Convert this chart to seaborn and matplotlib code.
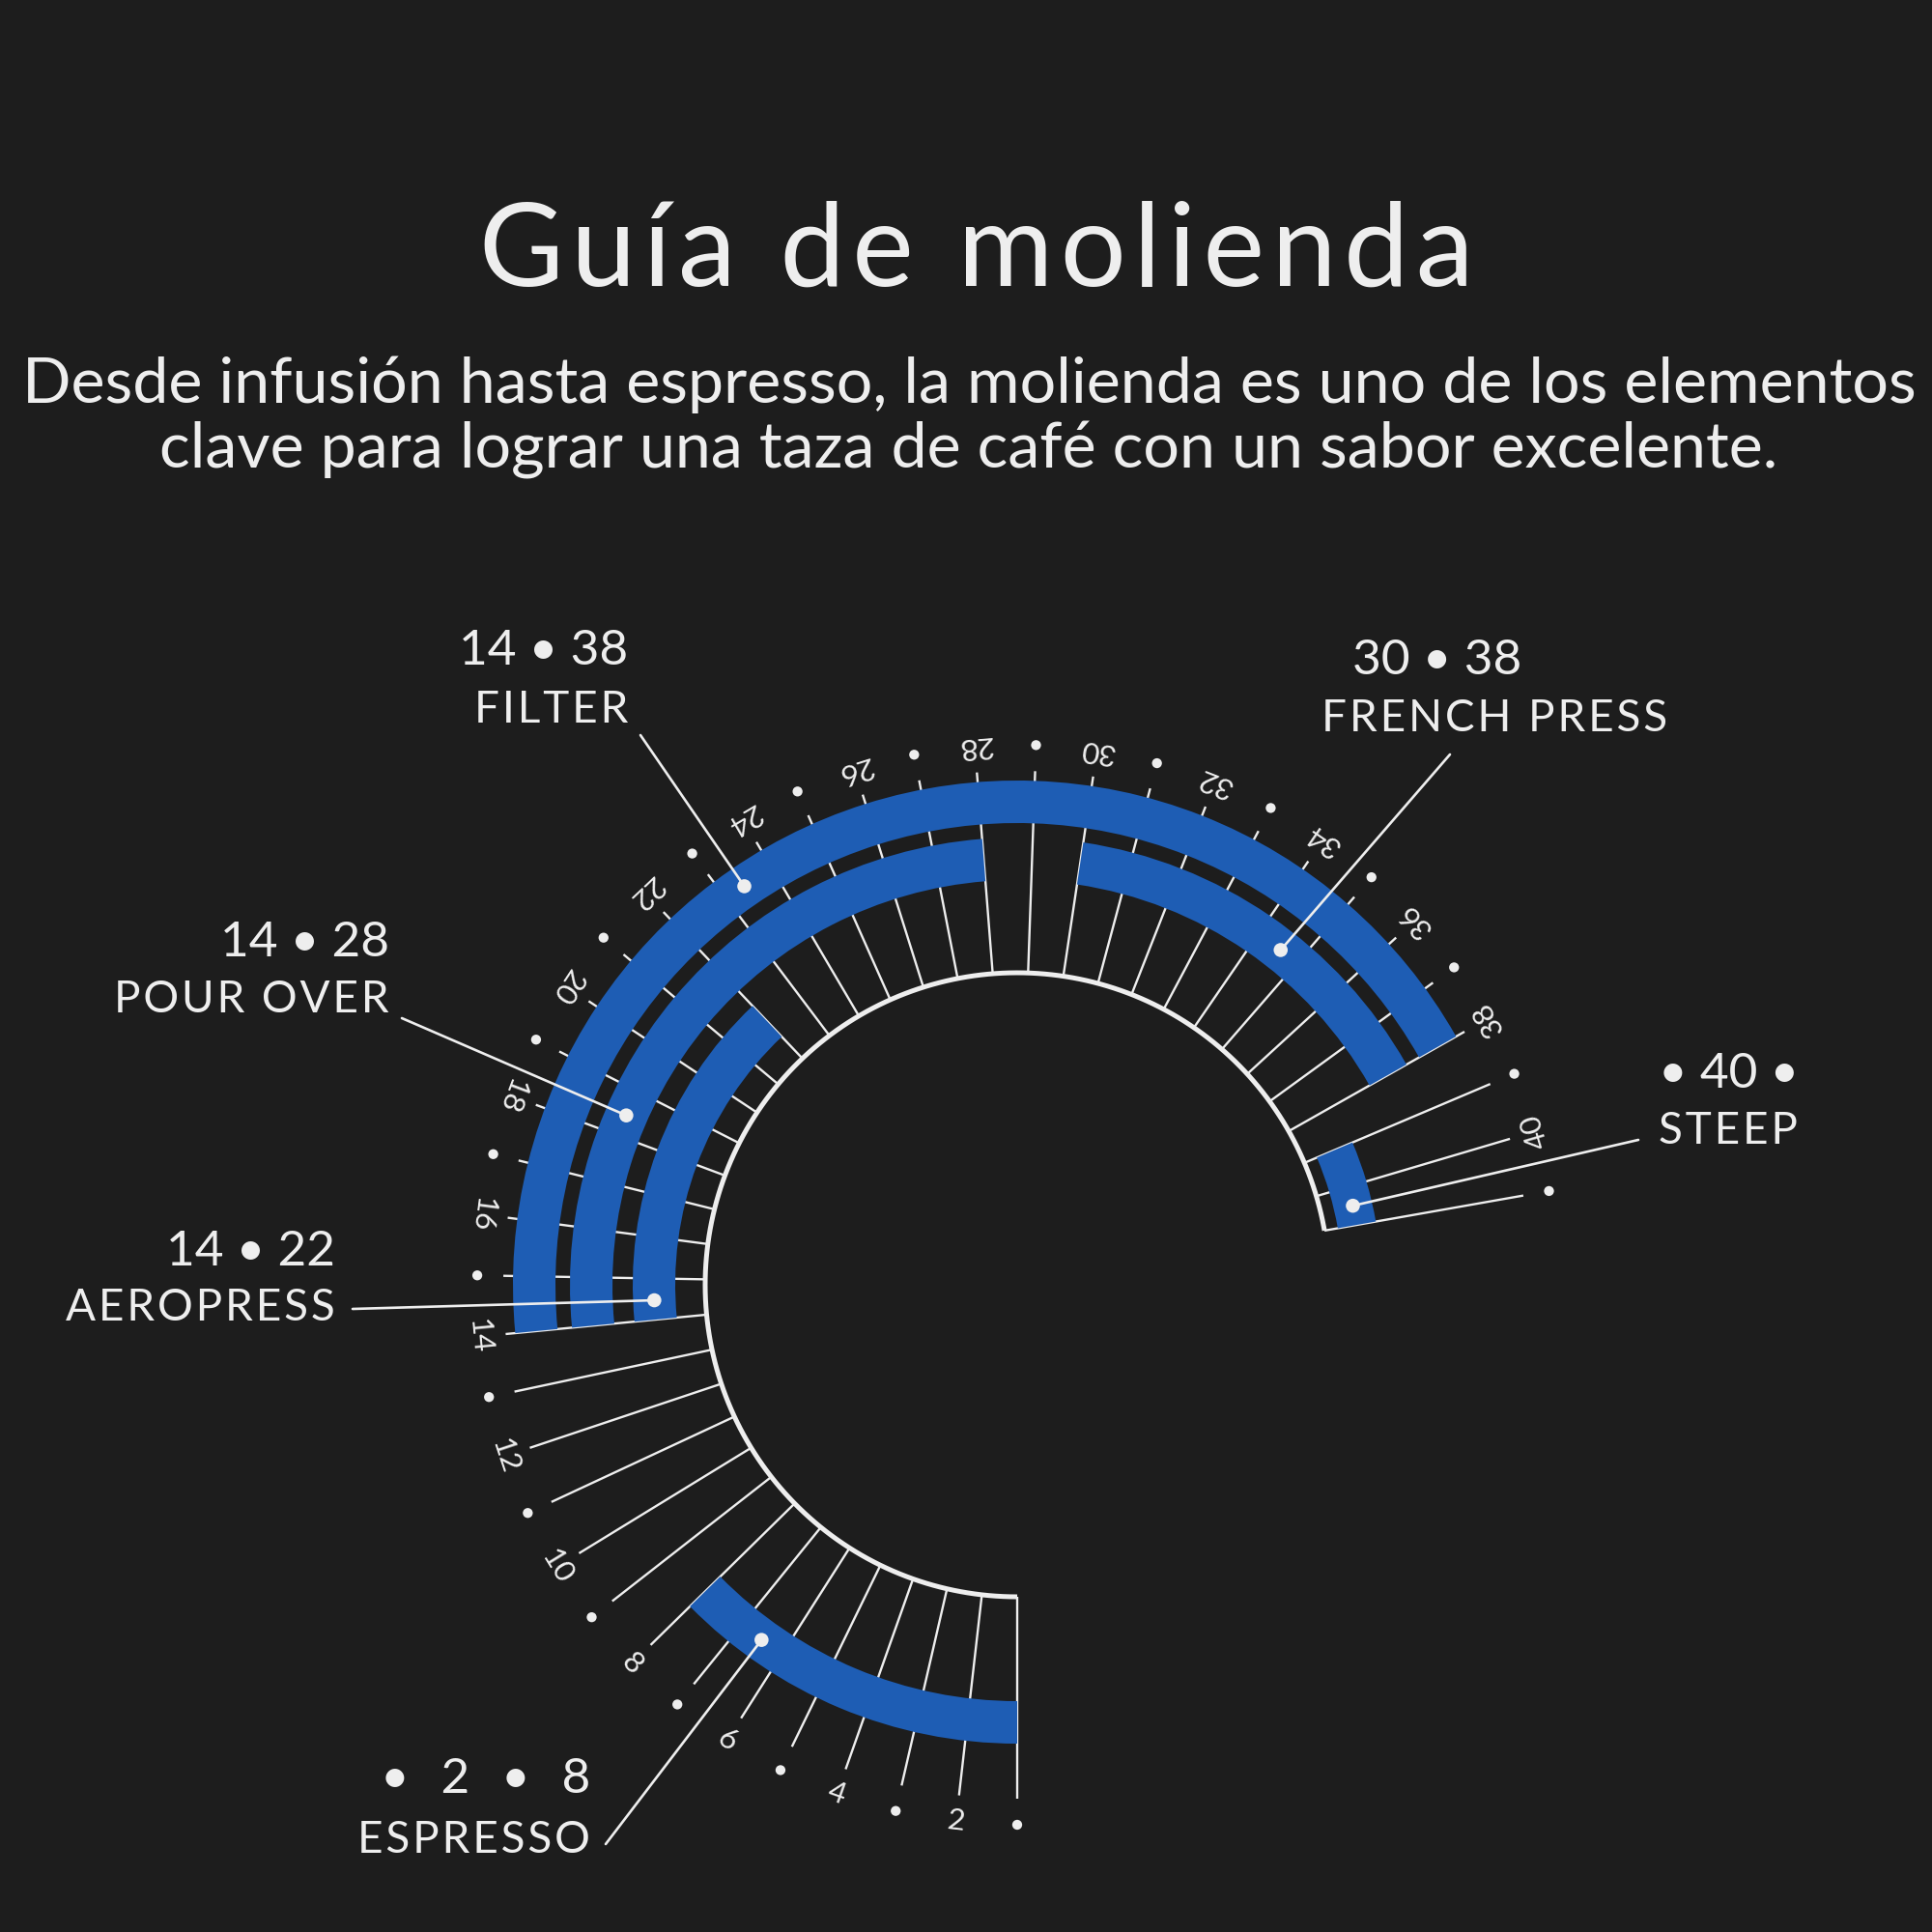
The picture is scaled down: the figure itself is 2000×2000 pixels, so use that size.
import numpy as np
import matplotlib
matplotlib.use("Agg")
import matplotlib.pyplot as plt
import seaborn as sns

# Guía de molienda - escala del molino y rango por método

# datos
metodos = ['ESPRESSO', 'AEROPRESS', 'POUR OVER', 'FILTER', 'FRENCH PRESS', 'STEEP']
molienda_ini = [1, 14, 14, 14, 30, 39]
molienda_fin = [8, 22, 28, 38, 38, 41]
rango_txt = ['•\u200a\u200a  2 \u200a\u200a •\u200a\u200a  8', '14 • 22', '14 • 28', '14 • 38',
             '30 • 38', '• 40 •']

escala = np.arange(1, 42)            # posiciones del molino 1..41
marcas_par = escala[escala % 2 == 0]  # con número
marcas_impar = escala[escala % 2 == 1]  # con punto

titulo = 'Guía de molienda'
subtitulo = ['Desde infusión hasta espresso, la molienda es uno de los elementos',
             'clave para lograr una taza de café con un sabor excelente.']

# estilo
FONDO = '#1d1d1d'
AZUL = '#1e5db4'
BLANCO = '#eeeeee'
PASO = 6.5  # grados por número
HS = '\u200a'  # espacio fino para separar letras

sns.set_theme(style='dark', rc={'figure.facecolor': FONDO, 'axes.facecolor': FONDO})
plt.rcParams['font.family'] = ['Lato', 'DejaVu Sans']


def ang(v):
    return np.radians(PASO * (np.asarray(v, dtype=float) - 1))


def espaciar(s, n=1):
    return (HS * n).join(s)


W = 2000
fig = plt.figure(figsize=(20, 20), dpi=100)
cx, cy = 1053, 1330  # centro en pixeles (y desde arriba)
R = 600
ax = fig.add_axes([(cx - R) / W, (W - cy - R) / W, 2 * R / W, 2 * R / W], projection='polar')
ax.set_theta_offset(np.radians(270))
ax.set_theta_direction(-1)
ax.set_ylim(0, R)
ax.set_axis_off()

r0, r_tick, r_lab = 323, 532, 559

# marcas radiales
ax.vlines(ang(escala), r0, r_tick, color=BLANCO, lw=1.7, zorder=1)
# arco interior
t = np.linspace(ang(escala.min()), ang(escala.max()), 400)
ax.plot(t, np.full_like(t, r0), color=BLANCO, lw=3.6, zorder=3, solid_capstyle='butt')

# puntos y números de la escala
sns.scatterplot(x=ang(marcas_impar), y=np.full(len(marcas_impar), r_lab), ax=ax,
                color=BLANCO, s=55, edgecolor='none', zorder=3, legend=False)
for v in marcas_par:
    ax.text(ang(v), r_lab, str(v), rotation=-PASO * (v - 1), rotation_mode='anchor',
            ha='center', va='center', color=BLANCO, fontsize=22.5, fontweight='normal')

# barras (anillos)
anillo = {'ESPRESSO': (431, 475), 'AEROPRESS': (354, 398), 'POUR OVER': (419, 463),
          'FILTER': (478, 522), 'FRENCH PRESS': (419, 463), 'STEEP': (337, 377)}
for m, a, b in zip(metodos, molienda_ini, molienda_fin):
    ri, ro = anillo[m]
    ax.bar(ang(a), ro - ri, width=ang(b) - ang(a), bottom=ri, align='edge',
           color=AZUL, edgecolor='none', zorder=2)

# etiquetas con línea guía
punto_v = {'ESPRESSO': 6.5, 'AEROPRESS': 14.47, 'POUR OVER': 18.45, 'FILTER': 23.4,
           'FRENCH PRESS': 34.57, 'STEEP': 40.5}
fin_linea = {'ESPRESSO': (627, 1909), 'AEROPRESS': (365, 1355), 'POUR OVER': (416, 1054),
             'FILTER': (663, 761), 'FRENCH PRESS': (1501, 781), 'STEEP': (1696, 1180)}
# x, alineación, base números, base nombre
texto_pos = {'ESPRESSO': (611, 'right', 1856, 1918), 'AEROPRESS': (347, 'right', 1310, 1367),
             'POUR OVER': (403, 'right', 990, 1048), 'FILTER': (650, 'right', 688, 748),
             'FRENCH PRESS': (1368, 'left', 698, 757), 'STEEP': (1717, 'left', 1126, 1184)}
texto_x_num = {'FRENCH PRESS': 1400}

pts_t, pts_r = [], []
for m, rt in zip(metodos, rango_txt):
    ri, ro = anillo[m]
    th, rr = ang(punto_v[m]), (ri + ro) / 2
    pts_t.append(th)
    pts_r.append(rr)
    lx, ly = fin_linea[m]
    ax.annotate('', xy=(th, rr), xytext=(lx / W, 1 - ly / W), textcoords='figure fraction',
                arrowprops=dict(arrowstyle='-', color=BLANCO, lw=1.9, shrinkA=0, shrinkB=0),
                annotation_clip=False, zorder=4)
    x, ha, yn, ym = texto_pos[m]
    fig.text(texto_x_num.get(m, x) / W, 1 - yn / W, rt, ha=ha, va='baseline',
             color=BLANCO, fontsize=37, fontweight='normal')
    fig.text(x / W, 1 - ym / W, espaciar(m, 1), ha=ha, va='baseline',
             color=BLANCO, fontsize=33, fontweight='normal')

sns.scatterplot(x=pts_t, y=pts_r, ax=ax, color=BLANCO, s=110, edgecolor='none',
                zorder=5, legend=False)

# título y subtítulo
fig.text(1011 / W, 1 - 296 / W, espaciar(titulo, 1), ha='center', va='baseline', color=BLANCO,
         fontsize=86.5, fontweight='normal')
for i, linea in enumerate(subtitulo):
    fig.text(1003 / W, 1 - (417 + 68 * i) / W, linea, ha='center', va='baseline',
             color=BLANCO, fontsize=47.8, fontweight='normal')

fig.savefig('out.png', dpi=100, facecolor=FONDO)
